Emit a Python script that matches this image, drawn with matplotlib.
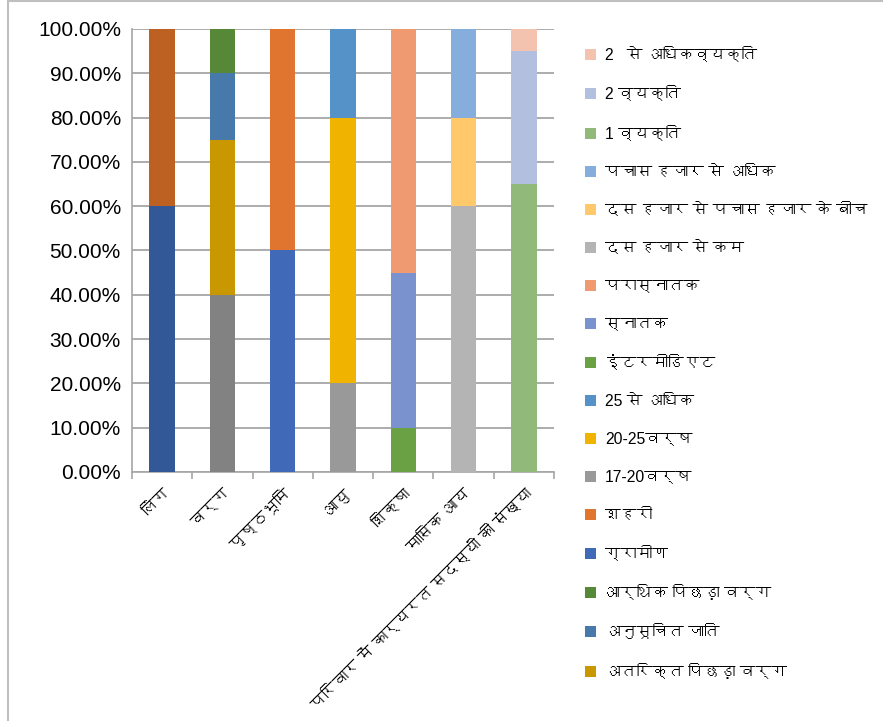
import matplotlib
matplotlib.use("Agg")
import matplotlib.pyplot as plt
from matplotlib import font_manager
from matplotlib.ft2font import FT2Font
from matplotlib.patches import Patch
from matplotlib.lines import Line2D

# look for any installed font that has Devanagari glyphs
deva = []
for f in font_manager.fontManager.ttflist:
    try:
        if 0x0915 in FT2Font(f.fname).get_charmap():
            if f.name not in deva:
                deva.append(f.name)
    except Exception:
        pass
plt.rcParams['font.family'] = ['Liberation Sans'] + deva + ['DejaVu Sans']

categories = ['लिंग', 'वर्ग', 'पृष्ठभूमि', 'आयु', 'शिक्षा', 'मासिक आय',
              'परिवार में कार्यरत सदस्यों की संख्या']

# segments per category, bottom to top (percent)
ling = [60, 40]
varg = [40, 35, 15, 10]
prishthbhumi = [50, 50]
aayu = [20, 60, 20]
shiksha = [10, 35, 55]
masik_aay = [60, 20, 20]
parivar = [65, 30, 5]

ling_colors = ['#335898', '#BD6123']
varg_colors = ['#828282', '#C99700', '#4779AA', '#578837']
prishthbhumi_colors = ['#4069B8', '#E07530']
aayu_colors = ['#999999', '#F0B400', '#5592C8']
shiksha_colors = ['#6AA144', '#7A92CE', '#F09A72']
masik_colors = ['#B4B4B4', '#FFC96B', '#85AEDC']
parivar_colors = ['#91BA7A', '#B3BFDE', '#F4C3AF']

varg_labels = [None, 'अतरिक्त पिछड़ा वर्ग', 'अनुसूचित जाति', 'आर्थिक पिछड़ा वर्ग']
prishthbhumi_labels = ['ग्रामीण', 'शहरी']
aayu_labels = ['17-20वर्ष', '20-25वर्ष', '25 से अधिक']
shiksha_labels = ['इंटरमीडिएट', 'स्नातक', 'परास्नातक']
masik_labels = ['दस हजार से कम', 'दस हजार से पचास हजार के बीच', 'पचास हजार से अधिक']
parivar_labels = ['1 व्यक्ति', '2 व्यक्ति', '2   से अधिकव्यक्ति']

groups = [
    (ling, ling_colors, [None, None]),
    (varg, varg_colors, varg_labels),
    (prishthbhumi, prishthbhumi_colors, prishthbhumi_labels),
    (aayu, aayu_colors, aayu_labels),
    (shiksha, shiksha_colors, shiksha_labels),
    (masik_aay, masik_colors, masik_labels),
    (parivar, parivar_colors, parivar_labels),
]

fig = plt.figure(figsize=(8.83, 7.21), dpi=100)
ax = fig.add_axes([0.1495, 0.3454, 0.4779, 0.6144])

handles = []
for i, (vals, cols, labs) in enumerate(groups):
    bottom = 0
    for v, c, lab in zip(vals, cols, labs):
        ax.bar(i, v, bottom=bottom, width=0.42, color=c, zorder=3)
        bottom += v
        if lab:
            handles.append(Patch(facecolor=c, label=lab))

ax.set_xlim(-0.5, len(categories) - 0.5)
ax.set_ylim(0, 100)
ax.set_yticks(range(0, 101, 10))
ax.set_yticklabels(['%.2f%%' % t for t in range(0, 101, 10)], fontsize=15)
ax.yaxis.grid(True, color='#A6A6A6', linewidth=1.3, zorder=0)
ax.tick_params(axis='y', length=0, pad=8)

ax.set_xticks(range(len(categories)))
ax.set_xticklabels(categories, rotation=45, ha='right', rotation_mode='anchor', fontsize=11.3)
ax.set_xticks([i - 0.5 for i in range(len(categories) + 1)], minor=True)
ax.tick_params(axis='x', which='major', length=0, pad=10)
ax.tick_params(axis='x', which='minor', length=5, color='#A6A6A6', width=1.2)

for s in ['top', 'right']:
    ax.spines[s].set_visible(False)
ax.spines['left'].set_color('#A6A6A6')
ax.spines['bottom'].set_color('#A6A6A6')
ax.spines['left'].set_linewidth(1.2)
ax.spines['bottom'].set_linewidth(1.2)

handles = handles[::-1]
fig.legend(handles=handles, loc='upper left', bbox_to_anchor=(0.655, 0.943),
           frameon=False, fontsize=11.3, handlelength=0.7, handleheight=0.7,
           handletextpad=0.6, labelspacing=1.47, borderaxespad=0)

# chart border (left and top)
fig.add_artist(Line2D([0.009, 0.009], [0, 1], color='#BFBFBF', lw=1.5, transform=fig.transFigure))
fig.add_artist(Line2D([0.009, 1], [0.999, 0.999], color='#BFBFBF', lw=1.5, transform=fig.transFigure))

fig.savefig('out.png', dpi=100)
